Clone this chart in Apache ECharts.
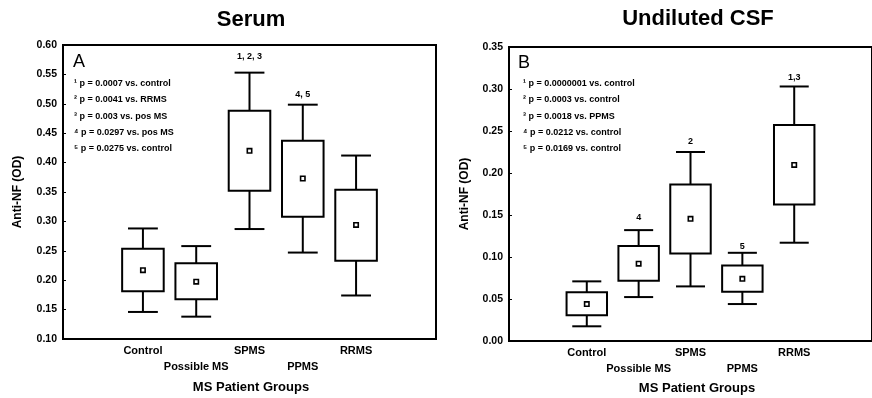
<!DOCTYPE html>
<html>
<head>
<meta charset="utf-8">
<script src="https://cdn.jsdelivr.net/npm/echarts@6/dist/echarts.min.js"></script>
<style>
  html, body { margin: 0; padding: 0; background: #fff; }
  #chart { width: 872px; height: 398px; }
</style>
</head>
<body>
<div id="chart"></div>
<script>
// Patient groups shown on both panels (blank slots pad the axis ends)
const groups = ['', 'Control', 'Possible MS', 'SPMS', 'PPMS', 'RRMS', ''];

// Serum anti-NF (OD): whisker low, box low, mean, box high, whisker high
const serumWhiskerLow  = [0.146, 0.138, 0.287, 0.247, 0.174];
const serumBoxLow      = [0.181, 0.1675, 0.352, 0.308, 0.233];
const serumMean        = [0.217, 0.1975, 0.420, 0.373, 0.294];
const serumBoxHigh     = [0.2536, 0.2287, 0.488, 0.437, 0.354];
const serumWhiskerHigh = [0.288, 0.258, 0.553, 0.4985, 0.412];
const serumMarks       = ['', '', '1, 2, 3', '4, 5', ''];
const serumMarkAt      = [null, null, 0.580, 0.515, null];

// Undiluted CSF anti-NF (OD)
const csfWhiskerLow  = [0.0175, 0.0523, 0.065, 0.044, 0.117];
const csfBoxLow      = [0.0306, 0.0717, 0.1043, 0.0586, 0.1625];
const csfMean        = [0.044, 0.092, 0.1454, 0.074, 0.2096];
const csfBoxHigh     = [0.058, 0.113, 0.1863, 0.090, 0.257];
const csfWhiskerHigh = [0.071, 0.132, 0.225, 0.105, 0.303];
const csfMarks       = ['', '4', '2', '5', '1,3'];
const csfMarkAt      = [null, 0.1466, 0.237, 0.113, 0.314];

const serumNotes = [
  '\u00b9 p = 0.0007 vs. control',
  '\u00b2 p = 0.0041 vs. RRMS',
  '\u00b3 p = 0.003 vs. pos MS',
  '\u2074 p = 0.0297 vs. pos MS',
  '\u2075 p = 0.0275 vs. control'
];
const csfNotes = [
  '\u00b9 p = 0.0000001 vs. control',
  '\u00b2 p = 0.0003 vs. control',
  '\u00b3 p = 0.0018 vs. PPMS',
  '\u2074 p = 0.0212 vs. control',
  '\u2075 p = 0.0169 vs. control'
];

const FONT = '"Liberation Sans", Arial, Helvetica, sans-serif';

function buildRows(wl, bl, m, bh, wh, marks, markAt) {
  return wl.map((_, i) => ({
    value: [i + 1, wl[i], bl[i], m[i], bh[i], wh[i], markAt[i] == null ? '-' : markAt[i]],
    mark: marks[i]
  }));
}

function makeRenderer(rows) {
  return function (params, api) {
    const x = api.value(0);
    const lo = api.coord([x, api.value(1)]);
    const q1 = api.coord([x, api.value(2)]);
    const mean = api.coord([x, api.value(3)]);
    const q3 = api.coord([x, api.value(4)]);
    const hi = api.coord([x, api.value(5)]);
    const band = api.size([1, 0])[0];
    const bw = band * 0.78;
    const cw = band * 0.56;
    const cx = lo[0];
    const line = { stroke: '#000', lineWidth: 2 };
    const children = [
      { type: 'line', shape: { x1: cx, y1: hi[1], x2: cx, y2: q3[1] }, style: line },
      { type: 'line', shape: { x1: cx, y1: q1[1], x2: cx, y2: lo[1] }, style: line },
      { type: 'line', shape: { x1: cx - cw / 2, y1: hi[1], x2: cx + cw / 2, y2: hi[1] }, style: line },
      { type: 'line', shape: { x1: cx - cw / 2, y1: lo[1], x2: cx + cw / 2, y2: lo[1] }, style: line },
      { type: 'rect', shape: { x: cx - bw / 2, y: q3[1], width: bw, height: q1[1] - q3[1] },
        style: { fill: '#fff', stroke: '#000', lineWidth: 2 } },
      { type: 'rect', shape: { x: cx - 2.2, y: mean[1] - 2.2, width: 4.4, height: 4.4 },
        style: { fill: '#fff', stroke: '#000', lineWidth: 1.6 } }
    ];
    const mark = rows[params.dataIndex].mark;
    const markVal = api.value(6);
    if (mark && !isNaN(markVal)) {
      const p = api.coord([x, markVal]);
      children.push({
        type: 'text',
        style: {
          text: mark, x: cx, y: p[1], align: 'center', verticalAlign: 'middle',
          font: 'bold 9px ' + FONT, fill: '#000'
        }
      });
    }
    return { type: 'group', children };
  };
}

const serumRows = buildRows(serumWhiskerLow, serumBoxLow, serumMean, serumBoxHigh, serumWhiskerHigh, serumMarks, serumMarkAt);
const csfRows = buildRows(csfWhiskerLow, csfBoxLow, csfMean, csfBoxHigh, csfWhiskerHigh, csfMarks, csfMarkAt);

function xAxisFor(gridIndex) {
  return {
    type: 'category', gridIndex, data: groups, boundaryGap: true,
    axisLine: { show: false },
    axisTick: {
      inside: true, length: 3, alignWithLabel: true,
      interval: (i, v) => v !== '',
      lineStyle: { color: '#000', width: 1 }
    },
    axisLabel: {
      interval: 0, margin: 4, lineHeight: 16,
      fontFamily: FONT, fontWeight: 'bold', fontSize: 11, color: '#000',
      formatter: (v, i) => (i % 2 === 0 ? '\n' + v : v)
    },
    splitLine: { show: false }
  };
}

function yAxisFor(gridIndex, min, max) {
  return {
    type: 'value', gridIndex, min, max, interval: 0.05,
    axisLine: { show: false },
    axisTick: { show: true, inside: true, length: 3, lineStyle: { color: '#000', width: 1 } },
    axisLabel: {
      margin: 6, fontFamily: FONT, fontWeight: 'bold', fontSize: 10.5, color: '#000',
      formatter: v => v.toFixed(2)
    },
    splitLine: { show: false }
  };
}

function noteTexts(notes, left) {
  return notes.map((t, i) => ({
    type: 'text', left, top: 79 + i * 16.3,
    style: { text: t, font: 'bold 9px ' + FONT, fill: '#000' }
  }));
}

const option = {
  animation: false,
  backgroundColor: '#fff',
  grid: [
    { left: 63, top: 45, width: 373, height: 294, show: true, borderColor: '#000', borderWidth: 2, backgroundColor: 'transparent' },
    { left: 509, top: 47, width: 373, height: 294, show: true, borderColor: '#000', borderWidth: 2, backgroundColor: 'transparent' }
  ],
  xAxis: [xAxisFor(0), xAxisFor(1)],
  yAxis: [yAxisFor(0, 0.1, 0.6), yAxisFor(1, 0, 0.35)],
  series: [
    { type: 'custom', xAxisIndex: 0, yAxisIndex: 0, data: serumRows, renderItem: makeRenderer(serumRows),
      encode: { x: 0, y: [1, 5] }, clip: false },
    { type: 'custom', xAxisIndex: 1, yAxisIndex: 1, data: csfRows, renderItem: makeRenderer(csfRows),
      encode: { x: 0, y: [1, 5] }, clip: false }
  ],
  graphic: [
    { type: 'text', x: 251, y: 19.5, style: { text: 'Serum', font: 'bold 22px ' + FONT, fill: '#000', align: 'center', verticalAlign: 'middle' } },
    { type: 'text', x: 698, y: 18.5, style: { text: 'Undiluted CSF', font: 'bold 22px ' + FONT, fill: '#000', align: 'center', verticalAlign: 'middle' } },
    { type: 'text', x: 73, y: 62, style: { text: 'A', font: '18px ' + FONT, fill: '#000', verticalAlign: 'middle' } },
    { type: 'text', x: 518, y: 63, style: { text: 'B', font: '18px ' + FONT, fill: '#000', verticalAlign: 'middle' } },
    { type: 'text', x: 18, y: 192, rotation: Math.PI / 2,
      style: { text: 'Anti-NF (OD)', font: 'bold 12px ' + FONT, fill: '#000', align: 'center', verticalAlign: 'middle' } },
    { type: 'text', x: 465, y: 194, rotation: Math.PI / 2,
      style: { text: 'Anti-NF (OD)', font: 'bold 12px ' + FONT, fill: '#000', align: 'center', verticalAlign: 'middle' } },
    { type: 'text', x: 251, y: 387, style: { text: 'MS Patient Groups', font: 'bold 13px ' + FONT, fill: '#000', align: 'center', verticalAlign: 'middle' } },
    { type: 'text', x: 697, y: 388, style: { text: 'MS Patient Groups', font: 'bold 13px ' + FONT, fill: '#000', align: 'center', verticalAlign: 'middle' } },
    ...noteTexts(serumNotes, 74),
    ...noteTexts(csfNotes, 523)
  ]
};

const chart = echarts.init(document.getElementById('chart'), null, { renderer: 'canvas' });
chart.setOption(option);
</script>
</body>
</html>
